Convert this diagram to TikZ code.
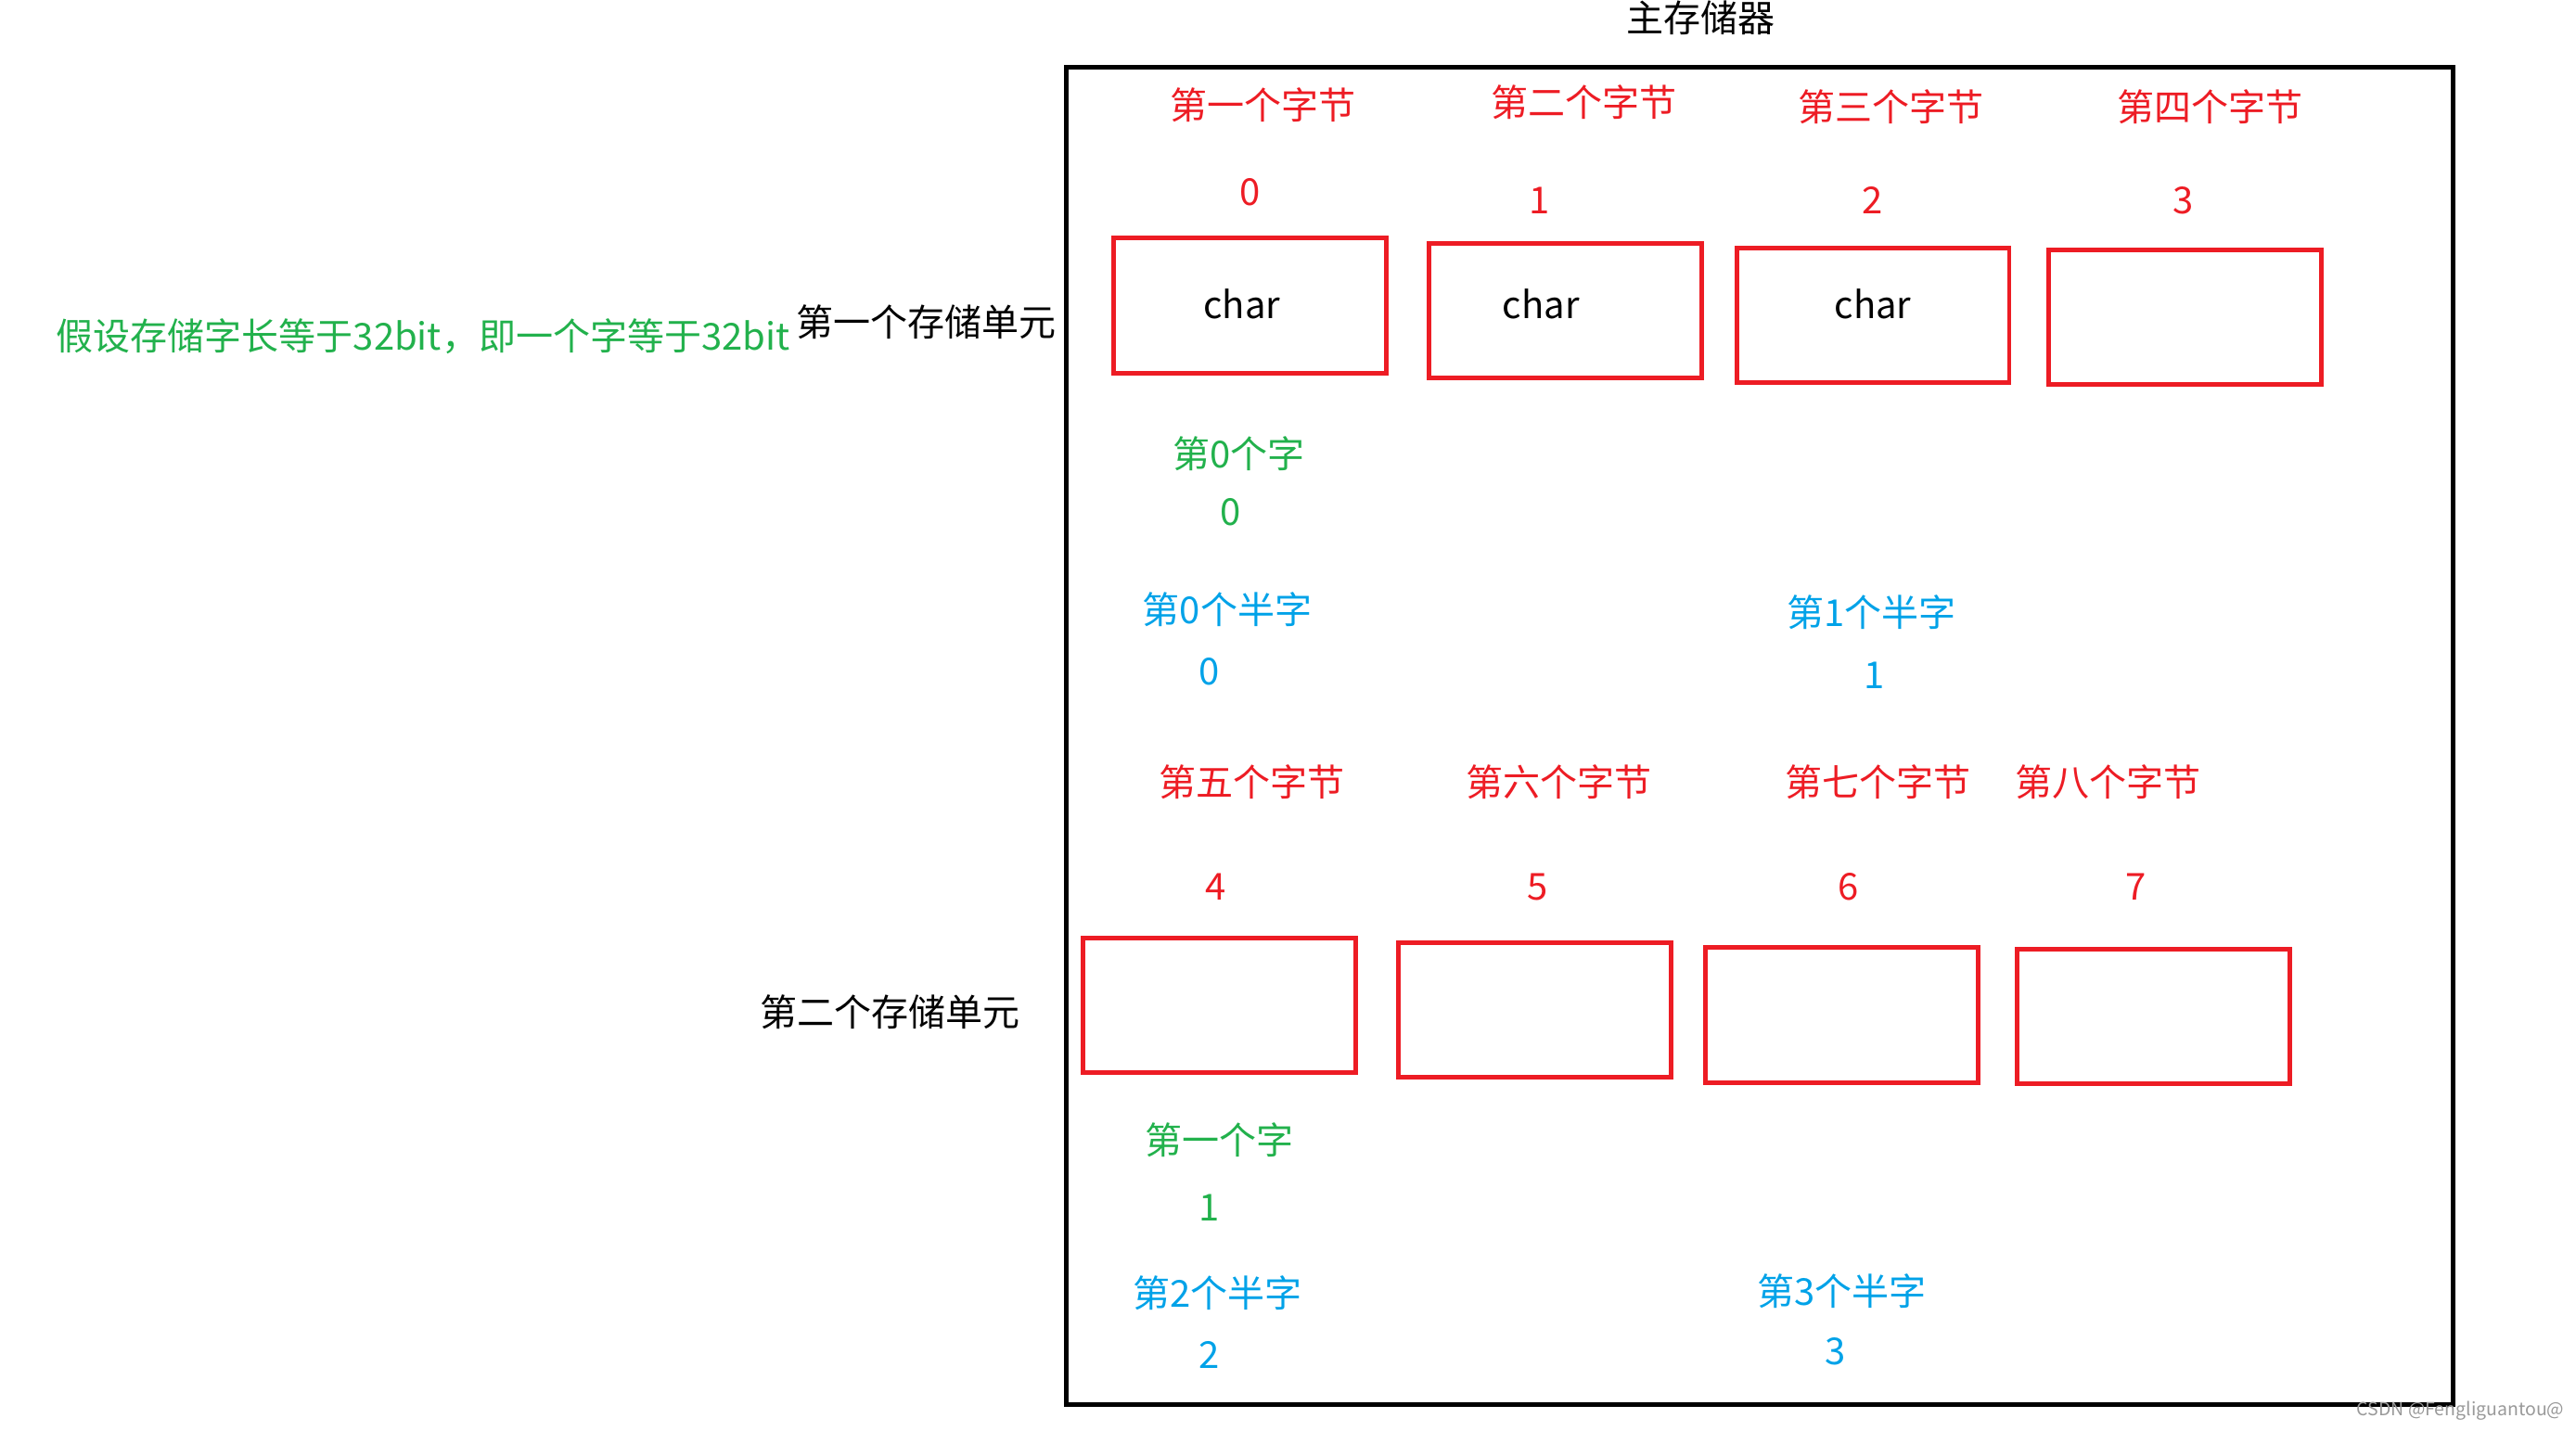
\documentclass[tikz,border=0pt]{standalone}
\usepackage{fontspec}
\setmainfont{Noto Sans CJK SC}
\definecolor{myred}{RGB}{237,28,36}
\definecolor{mygreen}{RGB}{34,177,76}
\definecolor{myblue}{RGB}{0,162,232}
\begin{document}
\begin{tikzpicture}[x=1pt,y=-1pt,
  txt/.style={inner sep=0pt,font=\fontsize{22.6}{27}\selectfont},
  redt/.style={txt,text=myred},
  greent/.style={txt,text=mygreen},
  bluet/.style={txt,text=myblue},
  blackt/.style={txt,text=black},
  bytebox/.style={draw=myred,line width=2.8pt,minimum width=166pt,minimum height=82pt,inner sep=0pt}]
\useasboundingbox (0,0) rectangle (1568,871);
% title and main frame
\node[blackt] (title) at (1035,11) {主存储器};
\node[draw=black,line width=3pt,minimum width=844pt,minimum height=814pt,inner sep=0pt] (mem) at (1071,448) {};
% left texts
\node[greent,anchor=east] (assume) at (481,205) {假设存储字长等于32bit，即一个字等于32bit};
\node[blackt,anchor=east] (unit1) at (643,196) {第一个存储单元};
\node[blackt,anchor=east] (unit2) at (621,616) {第二个存储单元};
% first row byte labels
\node[redt] (l1) at (769,64) {第一个字节};
\node[redt] (l2) at (964,62) {第二个字节};
\node[redt] (l3) at (1151,65) {第三个字节};
\node[redt] (l4) at (1345,65) {第四个字节};
\node[redt] (n0) at (761,117) {0};
\node[redt] (n1) at (937,122) {1};
\node[redt] (n2) at (1140,122) {2};
\node[redt] (n3) at (1329,122) {3};
% first row boxes
\node[bytebox] (b0) at (761,186) {};
\node[bytebox] (b1) at (953,189) {};
\node[bytebox] (b2) at (1140,192) {};
\node[bytebox] (b3) at (1330,193) {};
\node[blackt] (c0) at (756,185) {char};
\node[blackt] (c1) at (938,185) {char};
\node[blackt] (c2) at (1140,185) {char};
% word / halfword labels
\node[greent] (w0) at (754,276) {第0个字};
\node[greent] (w0n) at (749,312) {0};
\node[bluet] (h0) at (747,371) {第0个半字};
\node[bluet] (h0n) at (736,409) {0};
\node[bluet] (h1) at (1139,373) {第1个半字};
\node[bluet] (h1n) at (1141,411) {1};
% second row byte labels
\node[redt] (l5) at (762,476) {第五个字节};
\node[redt] (l6) at (949,476) {第六个字节};
\node[redt] (l7) at (1143,476) {第七个字节};
\node[redt] (l8) at (1283,476) {第八个字节};
\node[redt] (n4) at (740,540) {4};
\node[redt] (n5) at (936,540) {5};
\node[redt] (n6) at (1125,540) {6};
\node[redt] (n7) at (1300,540) {7};
% second row boxes
\node[bytebox] (b4) at (742,612) {};
\node[bytebox] (b5) at (934,615) {};
\node[bytebox] (b6) at (1121,618) {};
\node[bytebox] (b7) at (1311,619) {};
% second word / halfwords
\node[greent] (w1) at (742,694) {第一个字};
\node[greent] (w1n) at (736,735) {1};
\node[bluet] (h2) at (741,787) {第2个半字};
\node[bluet] (h2n) at (736,825) {2};
\node[bluet] (h3) at (1121,786) {第3个半字};
\node[bluet] (h3n) at (1117,823) {3};
% watermark
\node[inner sep=0pt,anchor=east,text=black!40,font=\fontsize{11}{12}\selectfont] (wm) at (1561,859) {CSDN @Fengliguantou@};
\end{tikzpicture}
\end{document}
